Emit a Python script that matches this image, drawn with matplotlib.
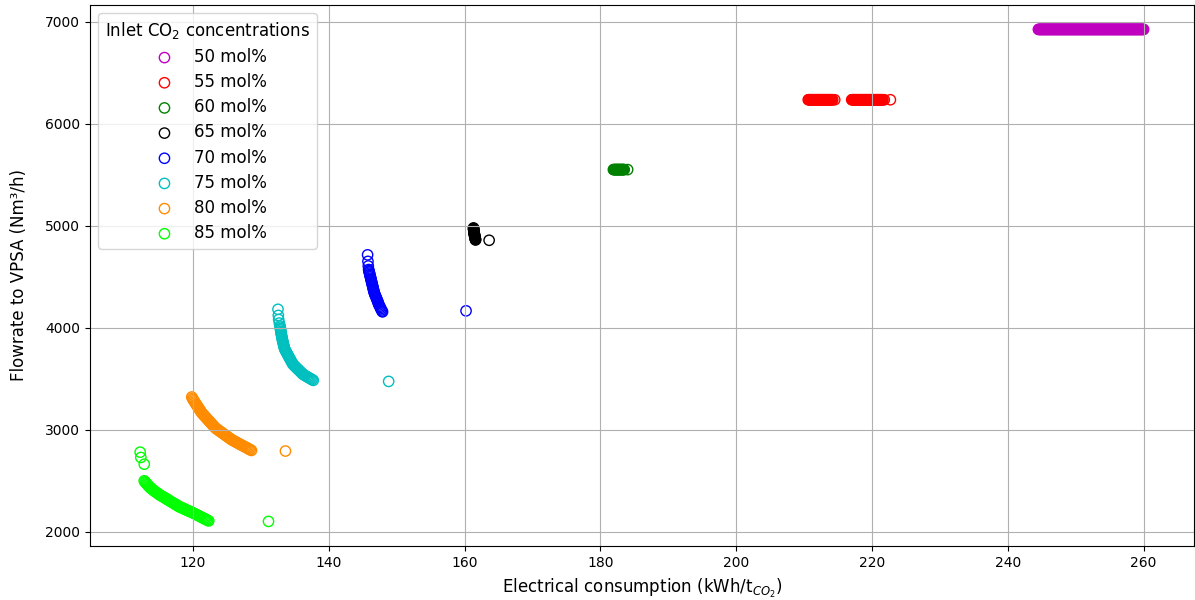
import matplotlib
matplotlib.use("Agg")
import matplotlib.pyplot as plt

# series: (electrical consumption kWh/t, flowrate Nm3/h)
labels = ["50 mol%", "55 mol%", "60 mol%", "65 mol%",
          "70 mol%", "75 mol%", "80 mol%", "85 mol%"]
colors = ["m", "r", "g", "k", "b", "c", "darkorange", "lime"]

x50 = [244.5, 244.6, 244.7, 244.8, 244.9, 245.0, 245.1, 245.2, 245.3, 245.4,
       245.5, 245.6, 245.7, 245.8, 245.9, 246.0, 246.1, 246.2, 246.3, 246.4,
       246.5, 246.6, 246.7, 246.8, 246.9, 247.0, 247.1, 247.2, 247.3, 247.4,
       247.5, 247.6, 247.7, 247.8, 247.9, 248.0, 248.1, 248.2, 248.3, 248.4,
       248.5, 248.6, 248.7, 248.8, 248.9, 249.0, 249.1, 249.2, 249.3, 249.4,
       249.5, 249.6, 249.7, 249.8, 249.9, 250.0, 250.1, 250.2, 250.3, 250.4,
       250.5, 250.6, 250.7, 250.8, 250.9, 251.0, 251.1, 251.2, 251.3, 251.4,
       251.5, 251.6, 251.7, 251.8, 251.9, 252.0, 252.1, 252.2, 252.3, 252.4,
       252.5, 252.6, 252.7, 252.8, 252.9, 253.0, 253.1, 253.2, 253.3, 253.4,
       253.5, 253.6, 253.7, 253.8, 253.9, 254.0, 254.1, 254.2, 254.3, 254.4,
       254.5, 254.6, 254.7, 254.8, 254.9, 255.0, 255.1, 255.2, 255.3, 255.4,
       255.5, 255.6, 255.7, 255.8, 255.9, 256.0, 256.1, 256.2, 256.3, 256.4,
       256.5, 256.6, 256.7, 256.8, 256.9, 257.0, 257.1, 257.2, 257.3, 257.4,
       257.5, 257.6, 257.7, 257.8, 257.9, 258.0, 258.1, 258.2, 258.3, 258.4,
       258.5, 258.6, 258.7, 258.8, 258.9, 259.0, 259.1, 259.2, 259.3, 259.4,
       259.5, 259.6, 259.7, 259.8, 259.9, 260.0]
y50 = [6925] * len(x50)

x55 = [210.6, 210.7, 210.8, 210.9, 211.0, 211.1, 211.2, 211.3, 211.4, 211.5,
       211.6, 211.7, 211.8, 211.9, 212.0, 212.1, 212.2, 212.3, 212.4, 212.5,
       212.6, 212.7, 212.8, 212.9, 213.0, 213.1, 213.2, 213.3, 213.4, 213.5,
       213.6, 213.7, 213.8, 213.9, 214.0, 214.1, 214.2, 214.5,
       217.0, 217.1, 217.2, 217.3, 217.4, 217.5, 217.6, 217.7, 217.8, 217.9,
       218.0, 218.1, 218.2, 218.3, 218.4, 218.5, 218.6, 218.7, 218.8, 218.9,
       219.0, 219.1, 219.2, 219.3, 219.4, 219.5, 219.6, 219.7, 219.8, 219.9,
       220.0, 220.1, 220.2, 220.3, 220.4, 220.5, 220.6, 220.7, 220.8, 220.9,
       221.0, 221.1, 221.2, 221.3, 221.4, 221.5, 221.6, 221.8, 222.7]
y55 = [6235] * len(x55)

x60 = [181.9, 182.0, 182.1, 182.2, 182.3, 182.4, 182.5, 182.6, 182.7, 182.8,
       182.9, 183.0, 183.1, 183.2, 183.3, 183.4, 183.5, 184.0]
y60 = [5550] * len(x60)

x65 = [161.3, 161.31, 161.32, 161.33, 161.34, 161.35, 161.36, 161.38, 161.39, 161.41,
       161.42, 161.44, 161.45, 161.47, 161.49, 161.51, 161.53, 161.55, 161.57, 161.59,
       161.6, 163.6]
y65 = [4978, 4972, 4966, 4960, 4954, 4948, 4942, 4936, 4930, 4924,
       4918, 4912, 4906, 4900, 4894, 4888, 4882, 4876, 4870, 4864,
       4860, 4857]

x70 = [145.7, 145.75, 145.8,
       145.85, 145.89, 145.94, 145.98, 146.03, 146.07, 146.11, 146.16, 146.2, 146.24,
       146.29, 146.33, 146.38, 146.42, 146.46, 146.51, 146.55, 146.59, 146.64, 146.68,
       146.75, 146.82, 146.9, 146.97, 147.04, 147.12, 147.19, 147.26,
       147.3, 147.39, 147.48, 147.56, 147.65, 147.74, 147.83, 147.9,
       160.2]
y70 = [4714, 4650, 4605,
       4570, 4558, 4546, 4534, 4522, 4510, 4498, 4486, 4474, 4462,
       4450, 4438, 4426, 4414, 4402, 4390, 4378, 4366, 4354, 4342,
       4330, 4318, 4306, 4294, 4282, 4270, 4258, 4246,
       4234, 4222, 4210, 4198, 4186, 4174, 4162, 4155,
       4165]

x75 = [132.5, 132.55, 132.6, 132.7,
       132.8, 132.83, 132.86, 132.89, 132.92, 132.95, 132.99, 133.03, 133.07, 133.11,
       133.15, 133.19, 133.24, 133.29, 133.34, 133.39, 133.44, 133.5,
       133.6, 133.7, 133.8, 133.9, 134.0, 134.1, 134.2, 134.3, 134.4, 134.5, 134.6, 134.7,
       134.85, 135.0, 135.15, 135.3, 135.45, 135.6, 135.75, 135.9, 136.05, 136.2,
       136.37, 136.53, 136.7, 136.87, 137.03, 137.2, 137.37, 137.53, 137.7,
       148.8]
y75 = [4180, 4120, 4080, 4045,
       4017, 4004, 3990, 3977, 3963, 3950, 3936, 3923, 3909, 3896,
       3882, 3869, 3855, 3842, 3828, 3815, 3801, 3788,
       3776, 3763, 3751, 3739, 3727, 3714, 3702, 3690, 3678, 3665, 3653, 3641,
       3631, 3621, 3611, 3601, 3591, 3582, 3572, 3562, 3552, 3542,
       3535, 3529, 3522, 3516, 3509, 3503, 3496, 3490, 3483,
       3473]

x80 = [119.8, 119.91, 120.01, 120.12, 120.23, 120.34, 120.44, 120.55, 120.66, 120.76,
       120.87, 120.98, 121.09, 121.19, 121.3,
       121.43, 121.57, 121.7, 121.83, 121.97, 122.1, 122.23, 122.37, 122.5, 122.63,
       122.77, 122.9, 123.03, 123.17, 123.3,
       123.46, 123.62, 123.78, 123.94, 124.1, 124.26, 124.42, 124.58, 124.74, 124.9,
       125.06, 125.22, 125.38, 125.54, 125.7,
       125.87, 126.04, 126.21, 126.38, 126.55, 126.72, 126.89, 127.06, 127.23, 127.4,
       127.57, 127.74, 127.91, 128.08, 128.25, 128.42, 128.6,
       133.6]
y80 = [3320, 3307, 3295, 3283, 3271, 3260, 3249, 3238, 3227, 3216,
       3205, 3194, 3183, 3173, 3162,
       3152, 3142, 3133, 3123, 3113, 3103, 3093, 3084, 3074, 3064,
       3054, 3044, 3035, 3025, 3015,
       3007, 3000, 2992, 2984, 2977, 2969, 2961, 2954, 2946, 2938,
       2931, 2923, 2915, 2908, 2900,
       2894, 2888, 2882, 2876, 2869, 2863, 2857, 2851, 2845, 2839,
       2833, 2827, 2821, 2815, 2808, 2802, 2796,
       2790]

x85 = [112.2, 112.3, 112.8,
       112.8, 112.92, 113.04, 113.16, 113.28, 113.4, 113.52, 113.64, 113.76, 113.88, 114.0,
       114.17, 114.33, 114.5, 114.67, 114.83, 115.0, 115.17, 115.33, 115.5,
       115.66, 115.82, 115.98, 116.14, 116.3, 116.46, 116.62, 116.78, 116.94, 117.1,
       117.26, 117.42, 117.58, 117.74, 117.9,
       118.07, 118.24, 118.41, 118.58, 118.75, 118.92, 119.09, 119.26, 119.43, 119.6,
       119.77, 119.94, 120.1,
       120.27, 120.44, 120.61, 120.78, 120.95, 121.12, 121.29, 121.46, 121.63, 121.8,
       121.97, 122.14, 122.3,
       131.1]
y85 = [2779, 2727, 2661,
       2498, 2488, 2478, 2469, 2460, 2450, 2442, 2434, 2427, 2420, 2413,
       2404, 2396, 2388, 2380, 2372, 2364, 2356, 2350, 2344,
       2338, 2331, 2325, 2318, 2312, 2305, 2299, 2292, 2286, 2279,
       2273, 2266, 2260, 2253, 2246,
       2241, 2236, 2231, 2226, 2220, 2215, 2210, 2205, 2200, 2195,
       2190, 2185, 2180,
       2174, 2168, 2162, 2157, 2151, 2145, 2139, 2133, 2128, 2122,
       2116, 2110, 2105,
       2100]

xs = [x50, x55, x60, x65, x70, x75, x80, x85]
ys = [y50, y55, y60, y65, y70, y75, y80, y85]

fig, ax = plt.subplots(figsize=(11.95, 6.0), dpi=100)
for x, y, c, lab in zip(xs, ys, colors, labels):
    ax.scatter(x, y, s=55, facecolors="none", edgecolors=c, linewidths=1.0, label=lab)

ax.grid(True)
ax.set_xlabel("Electrical consumption (kWh/t$_{CO_2}$)", fontsize=12, labelpad=5)
ax.set_ylabel("Flowrate to VPSA (Nm³/h)", fontsize=12, labelpad=12)
ax.legend(title="Inlet CO$_2$ concentrations", loc="upper left",
          fontsize=12, title_fontsize=12, labelspacing=0.43)

plt.subplots_adjust(left=0.0753, right=0.999, bottom=0.09, top=0.992)
plt.savefig("out.png", dpi=100)
